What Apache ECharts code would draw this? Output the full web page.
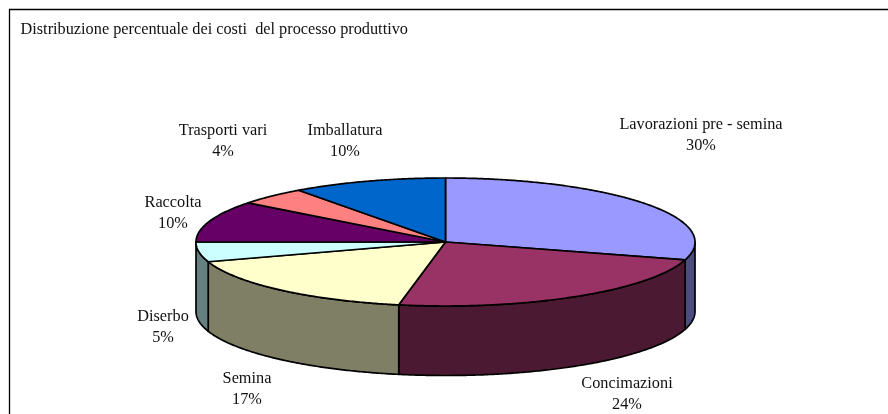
<!DOCTYPE html>
<html>
<head>
<meta charset="utf-8">
<style>html,body{margin:0;padding:0;background:#fff}#c{width:888px;height:414px}</style>
<script src="https://cdn.jsdelivr.net/npm/echarts@6/dist/echarts.min.js"></script>
</head>
<body>
<div id="c"></div>
<script>
const titleText = 'Distribuzione percentuale dei costi  del processo produttivo';
const categories = ['Lavorazioni pre - semina','Concimazioni','Semina','Diserbo','Raccolta','Trasporti vari','Imballatura'];
const values = [29.5, 23.5, 17.0, 5.0, 10.49, 4.49, 10.02];
const topColors = ['#9999FF','#993366','#FFFFCC','#CCFFFF','#660066','#FF8080','#0066CC'];
const sideColors = ['#4C4C7F','#4C1933','#7F7F66','#667F7F','#330033','#7F4040','#003366'];
const labelCenters = [[701,135],[627,394],[247,389],[163,327],[173,213],[223,141],[345,141]];

const cx = 445.5, cy = 242, rx = 249.5, ry = 64, depth = 69.5;
const total = values.reduce((a, b) => a + b, 0);
const starts = values.map((_, i) => values.slice(0, i).reduce((a, b) => a + b, 0) / total * 360);
const pt = (deg, dy) => {
  const t = deg * Math.PI / 180;
  return [cx + rx * Math.sin(t), cy - ry * Math.cos(t) + (dy || 0)];
};
const arc = (a, b, dy) => {
  const out = [];
  const n = Math.max(2, Math.ceil((b - a) * 2));
  for (let k = 0; k <= n; k++) out.push(pt(a + (b - a) * k / n, dy));
  return out;
};
const stroke = { stroke: '#000', lineWidth: 1.7, lineJoin: 'round' };

function renderSlice(params, api) {
  const i = params.dataIndex;
  const a = starts[i], b = a + api.value(1) / total * 360;
  const children = [];
  const sa = Math.max(a, 90), sb = Math.min(b, 270);
  if (sb > sa) {
    const upper = arc(sa, sb, 0), lower = arc(sa, sb, depth).reverse();
    children.push({ type: 'polygon', shape: { points: upper.concat(lower) },
      style: Object.assign({ fill: sideColors[i] }, stroke) });
  }
  children.push({ type: 'polygon', shape: { points: [[cx, cy]].concat(arc(a, b, 0)) },
    style: Object.assign({ fill: topColors[i] }, stroke) });
  return { type: 'group', children };
}
function renderLabel(params, api) {
  const i = params.dataIndex;
  return { type: 'text', x: labelCenters[i][0], y: labelCenters[i][1],
    style: { text: categories[i] + '\n' + Math.round(api.value(1)) + '%',
      font: '16.3px "Liberation Serif"', lineHeight: 21, fill: '#111', align: 'center', verticalAlign: 'middle' } };
}
const rows = values.map((v, i) => [categories[i], v]);
const chart = echarts.init(document.getElementById('c'), null, { renderer: 'canvas' });
chart.setOption({
  animation: false,
  backgroundColor: '#fff',
  title: { text: titleText, left: 20.5, top: 22, padding: 0,
    textStyle: { fontFamily: 'Liberation Serif', fontSize: 16.3, fontWeight: 'normal', color: '#111', lineHeight: 16 } },
  graphic: [{ type: 'polyline', shape: { points: [[9.5, 414], [9.5, 9.5], [888, 9.5]] },
    style: { stroke: '#000', lineWidth: 1.3, fill: null } }],
  series: [
    { type: 'custom', coordinateSystem: 'none', data: rows, renderItem: renderSlice, silent: true, z: 2 },
    { type: 'custom', coordinateSystem: 'none', data: rows, renderItem: renderLabel, silent: true, z: 3 }
  ]
});
</script>
</body>
</html>
